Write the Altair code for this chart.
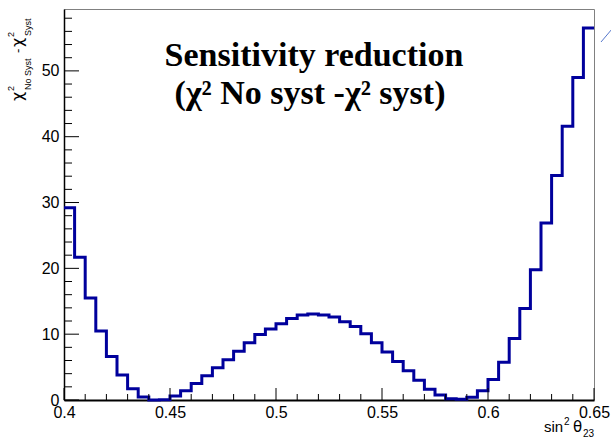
import altair as alt
import pandas as pd

# ---- data ----
x_min, x_max, bin_width = 0.40, 0.65, 0.005
values = [29.2, 21.7, 15.5, 10.5, 6.6, 3.8, 1.7, 0.45, 0.0, 0.05,
          0.6, 1.4, 2.5, 3.7, 4.9, 6.1, 7.4, 8.7, 9.95, 10.8,
          11.6, 12.4, 12.9, 13.05, 12.9, 12.6, 11.9, 11.15, 10.05, 8.7,
          7.3, 5.85, 4.45, 3.0, 1.65, 0.75, 0.2, 0.1, 0.4, 1.4,
          3.1, 5.75, 9.35, 13.9, 19.8, 26.9, 34.1, 41.6, 49.0, 56.5]
x_major = [0.40, 0.45, 0.50, 0.55, 0.60, 0.65]
x_minor = [0.41, 0.42, 0.43, 0.44, 0.46, 0.47, 0.48, 0.49, 0.51, 0.52, 0.53, 0.54,
           0.56, 0.57, 0.58, 0.59, 0.61, 0.62, 0.63, 0.64]
y_major = [0, 10, 20, 30, 40, 50]
y_minor = [2, 4, 6, 8, 12, 14, 16, 18, 22, 24, 26, 28, 32, 34, 36, 38,
           42, 44, 46, 48, 52, 54, 56, 58]
y_top = 59.4

edges = [round(x_min + bin_width * i, 4) for i in range(len(values) + 1)]
hist_df = pd.DataFrame({"x": edges, "y": values + [values[-1]]})

# ---- layout ----
PL, PT, PR, PB = 64, 9, 17, 38
W, H = 611 - PL - PR, 438 - PT - PB

xs = alt.Scale(domain=[x_min, x_max], nice=False, zero=False)
ys = alt.Scale(domain=[0, y_top], nice=False, zero=True)

LINE_BLUE = "#00009c"
SANS = "Liberation Sans"
SERIF = "Liberation Serif"

x_axis = alt.Axis(
    values=x_major, format="~g", ticks=False, grid=False, title=None,
    domainColor="black", domainWidth=2, labelFont=SANS, labelFontSize=16,
    labelColor="black", labelPadding=4, labelFlush=False)
y_axis = alt.Axis(
    values=y_major, ticks=False, grid=False, title=None,
    domainColor="black", domainWidth=1.5, labelFont=SANS, labelFontSize=16,
    labelColor="black", labelPadding=5)

hist = alt.Chart(hist_df).mark_line(
    interpolate="step-after", color=LINE_BLUE, strokeWidth=3
).encode(
    x=alt.X("x:Q", scale=xs, axis=x_axis),
    y=alt.Y("y:Q", scale=ys, axis=y_axis),
)


def xticks(vals, length):
    return alt.Chart(pd.DataFrame({"x": vals})).mark_rule(color="black", strokeWidth=1).encode(
        x=alt.X("x:Q", scale=xs, axis=x_axis),
        y=alt.value(H), y2=alt.value(H - length))


def yticks(vals, length):
    return alt.Chart(pd.DataFrame({"y": vals})).mark_rule(color="black", strokeWidth=1).encode(
        y=alt.Y("y:Q", scale=ys, axis=y_axis),
        x=alt.value(0), x2=alt.value(length))


dummy = pd.DataFrame({"d": [0]})


def txt(s, px, py, size, font=SANS, angle=0, align="left", weight="normal"):
    return alt.Chart(dummy).mark_text(
        text=s, fontSize=size, font=font, angle=angle, align=align,
        baseline="alphabetic", fontWeight=weight, color="black"
    ).encode(x=alt.value(px - PL), y=alt.value(py - PT))


GREEK = "DejaVu Sans"
texts = [
    # plot title
    txt("Sensitivity reduction", 314, 66, 34, SERIF, align="center", weight="bold"),
    txt("(χ² No syst -χ² syst)", 310, 104, 34, SERIF, align="center", weight="bold"),
    # y axis title (rotated)
    txt("χ", 23, 101, 16, GREEK, angle=270),
    txt("2", 14, 91, 9, angle=270),
    txt("No Syst", 31, 90, 9, angle=270),
    txt("-", 22, 53, 13, angle=270),
    txt("χ", 23, 47, 16, GREEK, angle=270),
    txt("2", 14, 37, 9, angle=270),
    txt("Syst", 31, 36, 9, angle=270),
    # x axis title
    txt("sin", 544, 432, 15),
    txt("2", 564, 425, 10),
    txt("θ", 573, 432, 15, GREEK),
    txt("23", 583, 437, 10),
]

stray = alt.Chart(dummy).mark_rule(color="#5577cc", strokeWidth=1).encode(
    x=alt.value(601 - PL), y=alt.value(42 - PT), x2=alt.value(612 - PL), y2=alt.value(29 - PT))

chart = alt.layer(
    hist,
    xticks(x_major, 12), xticks(x_minor, 6),
    yticks(y_major, 15), yticks(y_minor, 8),
    stray,
    *texts,
).properties(
    width=W, height=H,
    autosize=alt.AutoSizeParams(type="none"),
    padding={"left": PL, "top": PT, "right": PR, "bottom": PB},
    background="white",
).configure_view(stroke="#808080", strokeWidth=1)

chart.save("out.html", embed_options={"renderer": "svg", "actions": False})
